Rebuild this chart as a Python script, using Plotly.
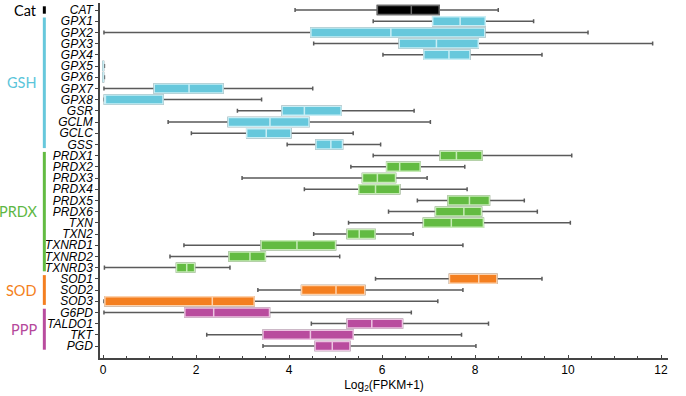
import plotly.graph_objects as go

categories = ["CAT", "GPX1", "GPX2", "GPX3", "GPX4", "GPX5", "GPX6", "GPX7", "GPX8",
              "GSR", "GCLM", "GCLC", "GSS",
              "PRDX1", "PRDX2", "PRDX3", "PRDX4", "PRDX5", "PRDX6", "TXN", "TXN2",
              "TXNRD1", "TXNRD2", "TXNRD3",
              "SOD1", "SOD2", "SOD3",
              "G6PD", "TALDO1", "TKT", "PGD"]

groups = ["Cat", "GSH", "PRDX", "SOD", "PPP"]
group_sizes = [1, 12, 11, 3, 4]

lower_fence = [4.13, 5.81, 0.02, 4.53, 6.02, 0.0, 0.0, 0.02, 0.02, 2.89, 1.40, 1.90, 3.96,
               5.81, 5.33, 2.99, 4.33, 6.76, 6.14, 5.28, 4.53, 1.74, 1.44, 0.03,
               5.86, 3.33, 0.02,
               0.02, 4.48, 2.23, 3.44]
q1 = [5.90, 7.09, 4.47, 6.37, 6.90, 0.0, 0.0, 1.10, 0.03, 3.85, 2.69, 3.09, 4.58,
      7.25, 6.10, 5.58, 5.50, 7.42, 7.15, 6.89, 5.25, 3.40, 2.71, 1.58,
      7.45, 4.27, 0.04,
      1.76, 5.25, 3.44, 4.56]
median = [6.63, 7.68, 6.19, 7.17, 7.44, 0.0, 0.0, 1.85, 0.03, 4.33, 3.59, 3.51, 4.90,
          7.60, 6.38, 5.90, 5.86, 7.88, 7.76, 7.49, 5.51, 4.17, 3.16, 1.80,
          8.08, 5.01, 2.35,
          2.38, 5.78, 4.46, 4.93]
q3 = [7.23, 8.22, 8.21, 8.07, 7.89, 0.01, 0.01, 2.58, 1.29, 5.12, 4.43, 4.04, 5.15,
      8.15, 6.82, 6.29, 6.38, 8.31, 8.14, 8.18, 5.85, 5.00, 3.49, 1.97,
      8.47, 5.63, 3.25,
      3.58, 6.44, 5.38, 5.31]
upper_fence = [8.50, 9.26, 10.43, 11.82, 9.44, 0.03, 0.03, 4.51, 3.41, 6.69, 7.04, 5.38, 5.97,
               10.08, 7.78, 6.97, 7.83, 9.06, 9.34, 10.05, 6.67, 7.74, 5.09, 2.73,
               9.44, 7.74, 7.20,
               6.63, 8.29, 7.71, 8.02]

x_ticks = [0, 2, 4, 6, 8, 10, 12]

fill_colors = ["#000000", "#67c8dc", "#63bb42", "#f47f20", "#b94c9e"]
edge_colors = ["#6a6a6a", "#c9eef5", "#c6ebb6", "#fcd2ad", "#ecc3e1"]
label_colors = ["#000000", "#5bc5da", "#5db744", "#f47f20", "#b5489b"]

fig = go.Figure()

start = 0
shapes = []
annotations = []
for g, n, fc, ec, lc in zip(groups, group_sizes, fill_colors, edge_colors, label_colors):
    idx = list(range(start, start + n))
    ys = idx
    # whiskers (grey)
    fig.add_trace(go.Box(
        orientation="h", y=ys,
        q1=[q1[i] for i in idx], median=[median[i] for i in idx], q3=[q3[i] for i in idx],
        lowerfence=[lower_fence[i] for i in idx], upperfence=[upper_fence[i] for i in idx],
        fillcolor=fc, line=dict(color="#5a5a5a", width=1.5),
        width=0.8, whiskerwidth=0.45, boxpoints=False, showlegend=False, hoverinfo="skip"))
    # box body with light edge + median
    fig.add_trace(go.Box(
        orientation="h", y=ys,
        q1=[q1[i] for i in idx], median=[median[i] for i in idx], q3=[q3[i] for i in idx],
        lowerfence=[q1[i] for i in idx], upperfence=[q3[i] for i in idx],
        fillcolor=fc, line=dict(color=ec, width=1.5),
        width=0.8, whiskerwidth=0.0, boxpoints=False, showlegend=False, hoverinfo="skip"))
    shapes.append(dict(type="line", xref="paper", yref="y",
                       x0=-0.098, x1=-0.098,
                       y0=start - 0.5 + 0.17, y1=start + n - 1 + 0.5 - 0.17,
                       line=dict(color=fc if g != "Cat" else "#000000", width=3)))
    annotations.append(dict(xref="paper", yref="y", x=-0.107, y=start + (n - 1) / 2,
                            text=g, showarrow=False, xanchor="right", yanchor="middle",
                            font=dict(family="Lato", size=14.5, color=lc)))
    start += n

fig.update_layout(
    width=686, height=396,
    margin=dict(l=100, r=18, t=3, b=38),
    paper_bgcolor="white", plot_bgcolor="white",
    boxmode="overlay",
    shapes=shapes, annotations=annotations,
    font=dict(family="Liberation Sans, Arial", size=12, color="#000000"),
)
fig.update_xaxes(
    range=[-0.065, 12.15], tickvals=x_ticks, ticktext=[str(v) for v in x_ticks],
    showline=True, linecolor="#444444", linewidth=1.5, showgrid=False, zeroline=False,
    ticks="inside", ticklen=3, tickcolor="#444444",
    minor=dict(dtick=0.5, tick0=0, ticks="inside", ticklen=2, tickcolor="#444444", showgrid=False),
    tickfont=dict(size=12, family="Liberation Sans, Arial"),
    title=dict(text="Log<sub>2</sub>(FPKM+1)", font=dict(size=12), standoff=4),
)
fig.update_yaxes(
    range=[30 + 1.07, -0.625], tickvals=list(range(len(categories))),
    ticktext=["<i>%s</i>" % c for c in categories],
    showline=True, linecolor="#444444", linewidth=1.5, showgrid=False, zeroline=False,
    ticks="outside", ticklen=3, tickcolor="#444444",
    tickfont=dict(size=12, family="Liberation Sans, Arial"),
)

fig.write_html("out.html", config={"displayModeBar": False},
               post_script="document.body.style.margin='0';")
